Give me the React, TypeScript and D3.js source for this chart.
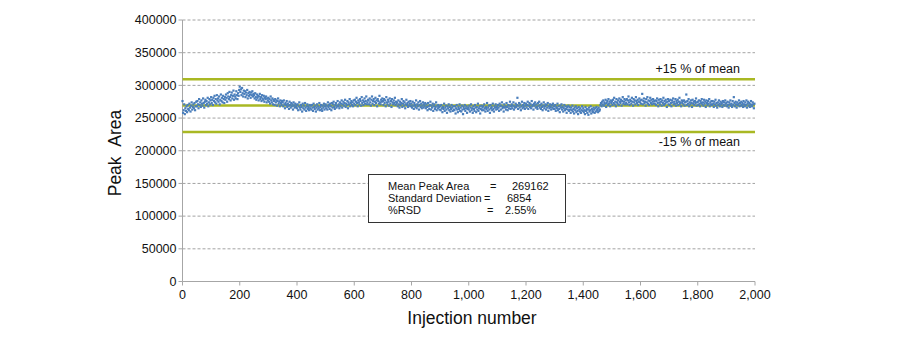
import React from "react";
import * as d3 from "d3";

// Peak area (in thousands) for every 2nd injection: 0, 2, 4, ... 1998
const injectionStep = 2;
const peakAreaK: number[] = [
  276, 258, 262, 271, 256, 265, 261, 268, 259, 270, 264, 262, 272, 266, 260, 269, 274, 263, 267, 271, 265, 273, 262, 268, 275,
  268, 276, 271, 265, 279, 270, 274, 267, 277, 272, 269, 280, 273, 266, 275, 278, 270, 276, 272, 281, 268, 274, 279, 271, 277,
  282, 273, 278, 270, 281, 276, 284, 274, 279, 272, 285, 277, 280, 275, 283, 271, 278, 286, 276, 281, 274, 284, 279, 273, 282,
  278, 286, 281, 275, 288, 283, 279, 290, 282, 277, 285, 289, 280, 284, 292, 278, 286, 283, 280, 291, 285, 279, 288, 284, 293,
  298, 290, 294, 285, 296, 288, 283, 292, 287, 291, 282, 289, 285, 293, 280, 288, 284, 290, 286, 281, 289, 285, 291, 283, 287,
  285, 280, 288, 282, 278, 286, 281, 284, 277, 283, 287, 279, 282, 276, 285, 280, 278, 284, 275, 281, 279, 283, 274, 280, 277,
  281, 275, 279, 272, 283, 277, 274, 280, 271, 278, 276, 270, 279, 274, 277, 269, 276, 280, 272, 275, 268, 277, 273, 270, 276,
  274, 268, 277, 271, 265, 273, 270, 276, 267, 272, 269, 264, 275, 270, 266, 273, 268, 271, 263, 274, 269, 266, 272, 267, 270,
  265, 271, 262, 268, 274, 266, 263, 270, 267, 260, 272, 265, 269, 263, 273, 266, 261, 268, 271, 264, 267, 262, 270, 265, 269,
  263, 270, 266, 261, 272, 267, 264, 269, 260, 266, 271, 263, 268, 265, 273, 262, 267, 270, 264, 261, 269, 266, 272, 263, 268,
  271, 265, 269, 263, 274, 267, 270, 264, 272, 268, 262, 273, 266, 271, 275, 267, 264, 270, 273, 266, 269, 276, 268, 271, 265,
  274, 268, 272, 277, 266, 271, 275, 269, 273, 278, 267, 272, 270, 276, 265, 274, 271, 279, 268, 273, 276, 270, 274, 268, 277,
  272, 278, 270, 275, 281, 273, 268, 277, 274, 271, 279, 276, 269, 282, 273, 277, 270, 275, 280, 272, 276, 283, 271, 274, 278,
  277, 271, 280, 274, 269, 278, 283, 272, 276, 279, 270, 275, 281, 273, 277, 268, 279, 276, 272, 284, 274, 271, 278, 275, 280,
  276, 270, 279, 273, 277, 268, 282, 274, 271, 278, 275, 269, 280, 272, 276, 267, 279, 274, 271, 277, 273, 281, 270, 275, 272,
  274, 268, 277, 271, 266, 275, 270, 273, 279, 267, 272, 276, 269, 274, 265, 271, 278, 270, 273, 267, 275, 269, 272, 276, 268,
  272, 266, 275, 269, 264, 273, 270, 267, 277, 265, 271, 268, 274, 263, 270, 276, 267, 272, 265, 269, 274, 266, 271, 268, 273,
  265, 271, 267, 262, 273, 268, 264, 270, 275, 263, 269, 266, 272, 261, 268, 271, 264, 267, 274, 262, 269, 265, 270, 267, 263,
  268, 262, 270, 265, 259, 267, 264, 272, 261, 266, 269, 263, 258, 268, 265, 271, 262, 267, 260, 264, 270, 266, 261, 268, 263,
  262, 268, 257, 265, 270, 263, 259, 267, 264, 271, 261, 266, 260, 269, 263, 256, 267, 264, 270, 261, 265, 268, 258, 264, 266,
  263, 269, 260, 266, 271, 262, 265, 258, 268, 264, 261, 270, 266, 259, 267, 263, 272, 261, 265, 268, 257, 264, 269, 262, 266,
  268, 262, 271, 265, 260, 267, 264, 273, 261, 266, 269, 263, 258, 270, 265, 267, 262, 272, 264, 260, 268, 266, 271, 263, 267,
  264, 270, 266, 261, 272, 268, 263, 269, 274, 265, 267, 260, 271, 266, 268, 263, 273, 267, 262, 270, 265, 269, 275, 264, 268,
  271, 265, 269, 274, 263, 268, 266, 272, 267, 270, 281, 264, 269, 273, 266, 271, 262, 268, 275, 265, 270, 267, 273, 264, 269,
  272, 266, 270, 275, 264, 269, 273, 267, 271, 265, 276, 268, 270, 263, 272, 269, 274, 266, 271, 267, 264, 273, 269, 275, 266,
  270, 264, 272, 267, 262, 269, 274, 265, 268, 271, 263, 270, 266, 273, 261, 268, 265, 271, 267, 263, 270, 266, 272, 264, 268,
  264, 270, 261, 267, 265, 272, 262, 268, 264, 259, 269, 266, 271, 263, 267, 260, 265, 270, 262, 268, 264, 258, 267, 263, 269,
  261, 267, 263, 258, 266, 262, 269, 260, 264, 257, 266, 262, 268, 259, 265, 261, 256, 267, 263, 260, 265, 258, 262, 268, 261,
  265, 259, 262, 256, 267, 261, 264, 258, 263, 255, 266, 260, 262, 268, 257, 264, 261, 259, 266, 263, 258, 265, 260, 267, 262,
  264, 259, 266, 261, 263, 270, 273, 268, 275, 271, 277, 269, 274, 272, 278, 267, 273, 276, 270, 279, 272, 275, 268, 277, 273,
  276, 270, 278, 273, 281, 271, 275, 268, 279, 274, 272, 277, 270, 280, 275, 273, 278, 269, 276, 282, 272, 275, 279, 271, 277,
  273, 279, 271, 277, 283, 274, 270, 278, 276, 272, 281, 275, 269, 279, 274, 277, 271, 282, 276, 273, 278, 270, 275, 280, 274,
  277, 272, 278, 287, 271, 276, 280, 273, 275, 269, 279, 274, 282, 272, 277, 270, 276, 281, 273, 278, 271, 275, 279, 272, 276,
  272, 277, 270, 276, 280, 273, 268, 278, 274, 271, 279, 275, 269, 277, 273, 281, 270, 276, 272, 278, 274, 267, 275, 279, 271,
  276, 270, 278, 273, 268, 277, 274, 280, 271, 275, 272, 279, 269, 276, 273, 278, 270, 275, 281, 272, 274, 268, 277, 273, 276,
  271, 277, 269, 274, 275, 286, 270, 276, 272, 279, 268, 274, 271, 277, 273, 267, 278, 272, 275, 270, 276, 273, 280, 269, 274,
  275, 270, 277, 272, 268, 276, 273, 279, 271, 274, 269, 278, 272, 275, 267, 277, 273, 270, 276, 272, 279, 268, 274, 271, 276,
  270, 276, 272, 267, 275, 271, 278, 269, 273, 266, 274, 270, 277, 272, 268, 275, 271, 273, 267, 276, 270, 274, 269, 277, 272,
  273, 268, 275, 270, 266, 274, 271, 277, 269, 272, 267, 276, 270, 282, 273, 268, 275, 271, 266, 274, 270, 272, 277, 268, 273,
  269, 275, 270, 273, 267, 276, 271, 268, 274, 270, 277, 266, 272, 275, 269, 273, 267, 271, 276, 270, 268, 274, 271, 265, 272,
];

const meanPeakArea = 269162;
const stdDev = 6854;
const rsdText = "2.55%";
const upperLimit = 309536; // +15 % of mean
const lowerLimit = 228788; // -15 % of mean
const yTicks = [0, 50000, 100000, 150000, 200000, 250000, 300000, 350000, 400000];
const xTicks = [0, 200, 400, 600, 800, 1000, 1200, 1400, 1600, 1800, 2000];

const W = 900;
const H = 340;
const left = 182.5;
const right = 755;
const top = 20;
const bottom = 281.5;
const font = "'Liberation Sans', Arial, sans-serif";
const green = "#a9b823";
const blue = "#4a7ebb";
const axisGrey = "#a6a6a6";

export default function App() {
  const x = d3.scaleLinear().domain([0, 2000]).range([left, right]);
  const y = d3.scaleLinear().domain([0, 400000]).range([bottom, top]);
  const fmtX = d3.format(",");
  const points = peakAreaK.map((v, i) => ({ inj: i * injectionStep, area: v * 1000 }));

  return (
    <svg width={W} height={H} style={{ position: "absolute", left: 0, top: 0, background: "#fff" }} fontFamily={font}>
      {/* grid lines */}
      {yTicks.filter((t) => t > 0).map((t) => (
        <line key={"g" + t} x1={left} x2={right} y1={y(t)} y2={y(t)} stroke="#8c8c8c" strokeWidth={0.8} strokeDasharray="3,2" />
      ))}
      {/* y axis */}
      <line x1={left} x2={left} y1={top} y2={bottom} stroke={axisGrey} strokeWidth={1} />
      {yTicks.map((t) => (
        <g key={"y" + t}>
          <line x1={left - 4} x2={left} y1={y(t)} y2={y(t)} stroke={axisGrey} strokeWidth={1} />
          <text x={left - 6} y={y(t) + 4.3} textAnchor="end" fontSize={12.5} fill="#111">
            {t}
          </text>
        </g>
      ))}
      {/* x axis */}
      <line x1={left} x2={right} y1={bottom} y2={bottom} stroke={axisGrey} strokeWidth={1} />
      {xTicks.map((t) => (
        <g key={"x" + t}>
          <line x1={x(t)} x2={x(t)} y1={bottom} y2={bottom + 4} stroke={axisGrey} strokeWidth={1} />
          <text x={x(t)} y={298.5} textAnchor="middle" fontSize={12.5} fill="#111">
            {fmtX(t)}
          </text>
        </g>
      ))}
      {/* limit lines */}
      <line x1={left} x2={right} y1={y(upperLimit)} y2={y(upperLimit)} stroke={green} strokeWidth={2.5} />
      <line x1={left} x2={right} y1={y(lowerLimit)} y2={y(lowerLimit)} stroke={green} strokeWidth={2.5} />
      <line x1={left} x2={right} y1={y(meanPeakArea)} y2={y(meanPeakArea)} stroke={green} strokeWidth={2.5} />
      {/* points */}
      {points.map((p, i) => (
        <rect key={i} x={x(p.inj) - 1.1} y={y(p.area) - 1.1} width={2.2} height={2.2} fill={blue} />
      ))}
      <text x={740} y={73} textAnchor="end" fontSize={12.5} fill="#111">+15 % of mean</text>
      <text x={740} y={146} textAnchor="end" fontSize={12.5} fill="#111">-15 % of mean</text>
      {/* stats box */}
      <rect x={368.5} y={174.5} width={197} height={48} fill="#fff" stroke="#333" strokeWidth={1} />
      <g fontSize={11} fill="#111">
        <text x={388} y={190}>Mean Peak Area</text>
        <text x={490} y={190}>=</text>
        <text x={512} y={190}>{meanPeakArea}</text>
        <text x={388} y={202}>Standard Deviation</text>
        <text x={484} y={202}>=</text>
        <text x={507} y={202}>{stdDev}</text>
        <text x={388} y={214}>%RSD</text>
        <text x={487} y={214}>=</text>
        <text x={505} y={214}>{rsdText}</text>
      </g>
      {/* axis titles */}
      <text x={472} y={324} textAnchor="middle" fontSize={17.5} fill="#111">Injection number</text>
      <text transform="translate(121,153) rotate(-90)" textAnchor="middle" fontSize={17.5} fill="#111">
        Peak&#160;&#160;Area
      </text>
    </svg>
  );
}
